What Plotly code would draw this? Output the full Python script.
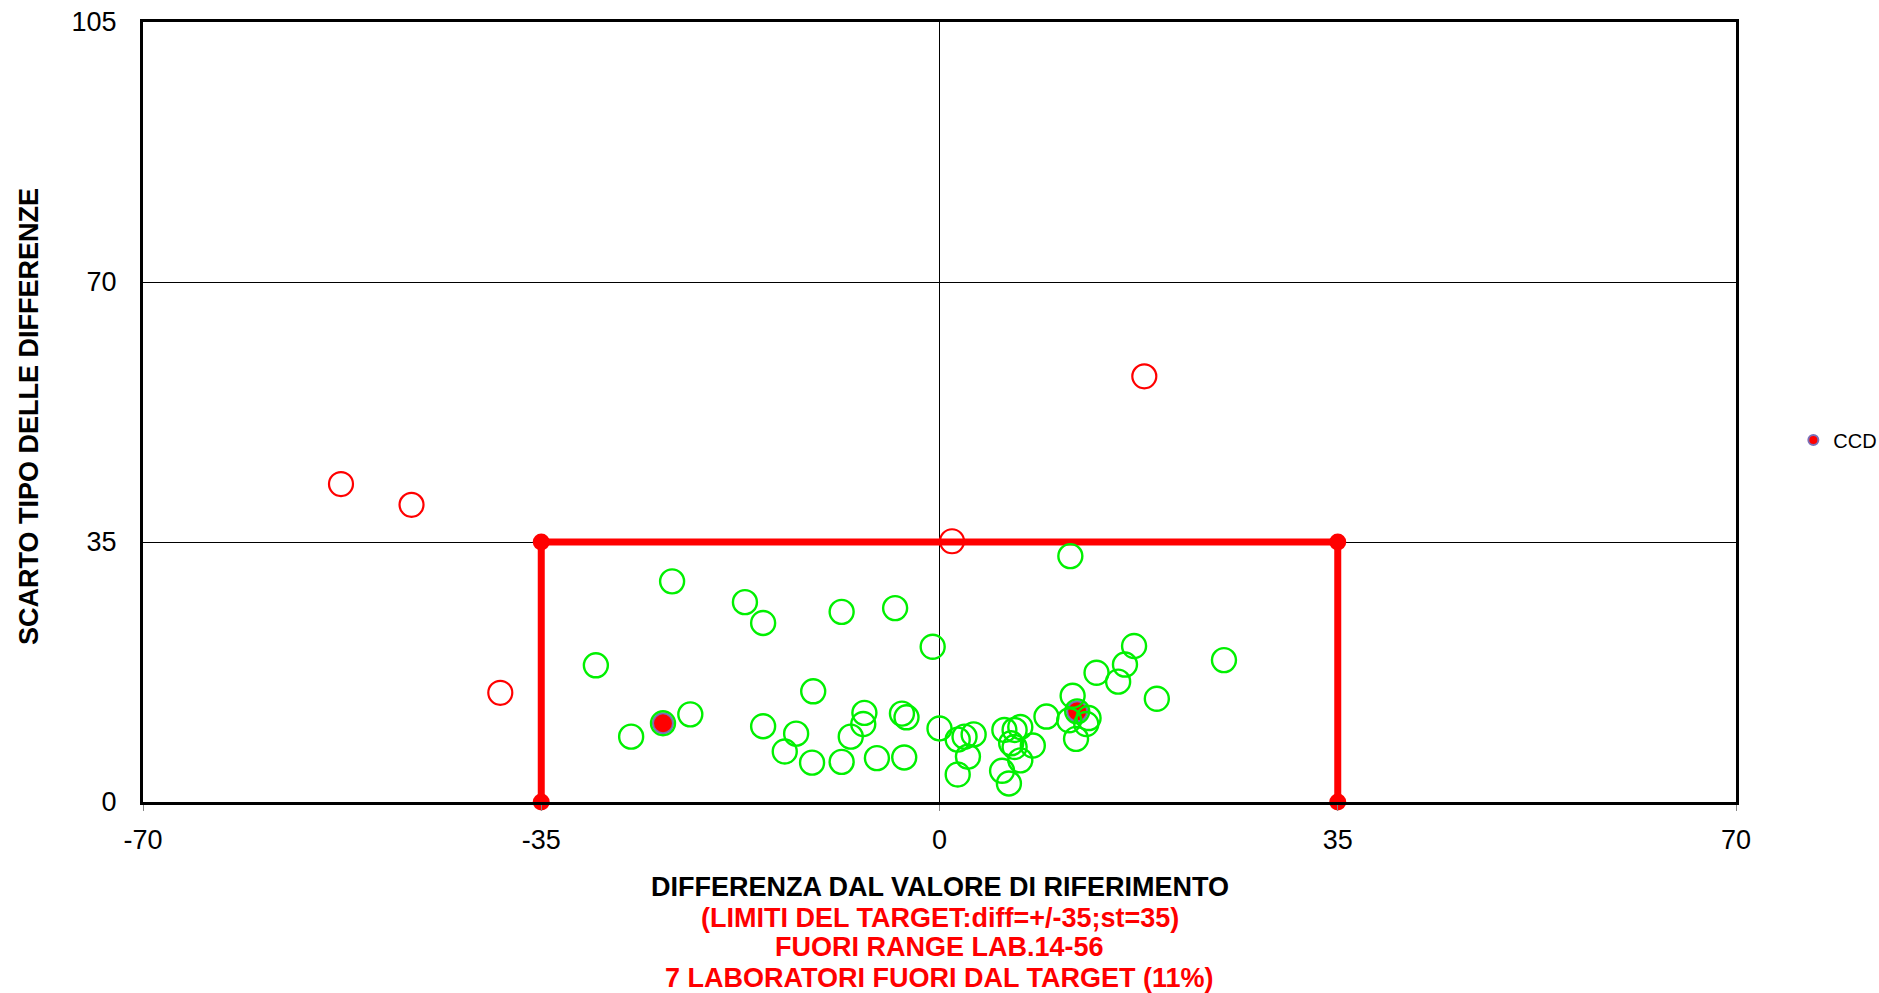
import plotly.graph_objects as go

# ---- data ----
in_target_x = [-23.5, -17.1, -15.5, -8.6, -3.9, -0.6, -30.2, -11.1, -21.9, -24.3, -27.1,
               -15.5, -12.6, -13.6, -11.2, -8.6, -6.6, -6.7, -7.8, -5.5, -3.1, -3.3, -2.9,
               0.0, 1.6, 2.2, 3.0, 2.5, 1.6, 5.7, 6.6, 7.1, 6.3, 6.6, 8.2, 7.1, 5.5, 6.1,
               9.4, 11.7, 11.4, 13.1, 12.9, 12.0, 12.1, 13.8, 15.7, 16.3, 17.1, 19.1, 25.0, 11.5]
in_target_y = [29.7, 26.9, 24.1, 25.6, 26.1, 20.9, 18.4, 14.9, 11.8, 10.6, 8.8,
               10.2, 9.2, 6.8, 5.3, 5.4, 12.0, 10.5, 8.8, 5.9, 6.0, 11.9, 11.4,
               9.9, 8.4, 8.8, 9.1, 6.1, 3.7, 9.7, 9.7, 10.1, 7.9, 7.4, 7.6, 5.6, 4.2, 2.5,
               11.5, 14.3, 11.0, 11.3, 10.5, 8.5, 12.2, 17.4, 16.2, 18.5, 21.0, 13.9, 19.1, 33.1]

out_target_x = [-52.6, -46.4, -38.6, 1.1, 18.0]
out_target_y = [42.8, 40.0, 14.7, 35.1, 57.3]

ccd_x = [-24.3, 12.1]
ccd_y = [10.6, 12.2]

target_x = [-35, -35, 35, 35]
target_y = [0, 35, 35, 0]

x_ticks = [-70, -35, 0, 35, 70]
x_tick_text = ["-70", "-35", "0", "35", "70"]
y_ticks = [0, 35, 70, 105]

x_title = "DIFFERENZA DAL VALORE DI RIFERIMENTO"
sub_lines = ["(LIMITI DEL TARGET:diff=+/-35;st=35)",
             "FUORI RANGE LAB.14-56",
             "7 LABORATORI FUORI DAL TARGET (11%)"]
y_title = "SCARTO TIPO DELLE DIFFERENZE"

FONT = "Liberation Sans, Arial, sans-serif"

fig = go.Figure()

# target box
fig.add_trace(go.Scatter(
    x=target_x, y=target_y, mode="lines+markers",
    line=dict(color="#FF0000", width=7),
    marker=dict(color="#FF0000", size=17, symbol="circle"),
    showlegend=False, cliponaxis=False, hoverinfo="skip"))

# CCD points
fig.add_trace(go.Scatter(
    x=ccd_x, y=ccd_y, mode="markers", name="CCD",
    marker=dict(color="#FF0000", size=20, line=dict(color="#7B70B8", width=2)),
    showlegend=False))

# within target
fig.add_trace(go.Scatter(
    x=in_target_x, y=in_target_y, mode="markers",
    marker=dict(symbol="circle-open", color="#00F000", size=24, line=dict(width=2.4)),
    showlegend=False))

# outside target
fig.add_trace(go.Scatter(
    x=out_target_x, y=out_target_y, mode="markers",
    marker=dict(symbol="circle-open", color="#FF0000", size=24, line=dict(width=2.2)),
    showlegend=False))

# legend entry
fig.add_trace(go.Scatter(
    x=[None], y=[None], mode="markers", name="CCD",
    marker=dict(color="#FF0000", size=10, line=dict(color="#7B70B8", width=2)),
    showlegend=True))

# vertical axis crossing at 0
fig.add_shape(type="line", xref="x", yref="y", x0=0, x1=0, y0=0, y1=105,
              line=dict(color="black", width=1), layer="below")

fig.update_xaxes(range=[-70, 70], tickvals=x_ticks, ticktext=x_tick_text,
                 showgrid=False, zeroline=False,
                 showline=True, linecolor="black", linewidth=3, mirror=True,
                 ticks="outside", ticklen=6, tickcolor="#888888", tickwidth=1,
                 tickfont=dict(family=FONT, size=27, color="black"),
                 ticklabelstandoff=6, automargin=False)
fig.update_yaxes(range=[0, 105], tickvals=y_ticks, showgrid=True, gridcolor="black",
                 gridwidth=1, zeroline=False,
                 showline=True, linecolor="black", linewidth=3, mirror=True,
                 ticks="", tickfont=dict(family=FONT, size=27, color="black"),
                 ticklabelstandoff=18, automargin=False)

annotations = [dict(text="<b>%s</b>" % x_title, xref="paper", yref="paper",
                    x=0.5, y=-85 / 780, xanchor="center", yanchor="middle",
                    showarrow=False, font=dict(family=FONT, size=27, color="black"))]
offsets = [116, 145, 176]
for line, off in zip(sub_lines, offsets):
    annotations.append(dict(text="<b>%s</b>" % line, xref="paper", yref="paper",
                            x=0.5, y=-off / 780, xanchor="center", yanchor="middle",
                            showarrow=False, font=dict(family=FONT, size=27, color="#FF0000")))
annotations.append(dict(text="<b>%s</b>" % y_title, xref="paper", yref="paper",
                        x=-114 / 1593, y=(802 - 417) / 780, xanchor="center",
                        yanchor="middle", textangle=-90, showarrow=False,
                        font=dict(family=FONT, size=27, color="black")))

fig.update_layout(
    width=1879, height=993,
    margin=dict(l=143, r=143, t=22, b=191, autoexpand=False),
    paper_bgcolor="white", plot_bgcolor="white",
    annotations=annotations,
    legend=dict(x=1.036, y=0.464, xanchor="left", yanchor="middle",
                font=dict(family=FONT, size=20, color="black"),
                bgcolor="rgba(0,0,0,0)", itemwidth=30, tracegroupgap=0),
    showlegend=True,
)

fig.write_html("out.html", config={"displayModeBar": False},
               post_script="document.body.style.margin='0';document.body.style.overflow='hidden';")
